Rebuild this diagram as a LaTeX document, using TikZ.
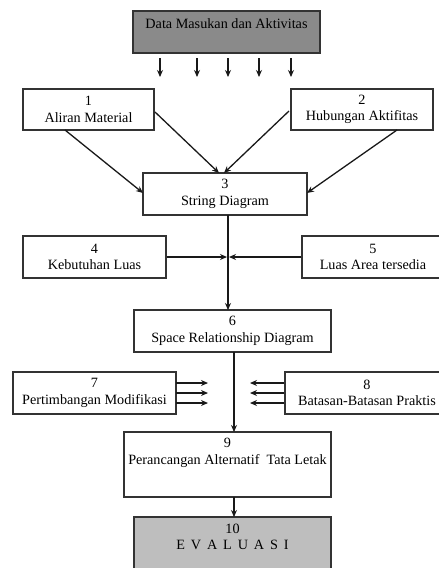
\documentclass[tikz,border=0pt]{standalone}
\usepackage{fontspec}
\setmainfont{Liberation Serif}
\usetikzlibrary{arrows.meta,calc}
\definecolor{topgray}{HTML}{8A8A8A}
\definecolor{botgray}{HTML}{BEBEBE}
\begin{document}
\begin{tikzpicture}[x=1pt,y=-1pt,
  every node/.style={font=\fontsize{14.2}{16.5}\selectfont, align=center, inner sep=0pt},
  box/.style={draw=black!80, line width=1.3pt, fill=white},
  lbl/.style={anchor=north},
  arr/.style={line width=1.3pt, draw=black!90, -{Stealth[length=7pt,width=6pt]}},
  ln/.style={line width=1.3pt, draw=black!90}]
\useasboundingbox (0,0) rectangle (439,568);
% boxes
\node[box, fill=topgray, minimum width=187, minimum height=42] (n0) at (226.5,32) {};
\node[lbl] (t0) at ($(n0.north)+(0,8)$) {Data Masukan dan Aktivitas};
\node[box, minimum width=131, minimum height=41] (n1) at (88.5,109.5) {1\\Aliran Material};
\node[box, minimum width=142, minimum height=41] (n2) at (362,109.5) {2\\Hubungan Aktifitas};
\node[box, minimum width=164, minimum height=42] (n3) at (225,194) {3\\String Diagram};
\node[box, minimum width=143, minimum height=42] (n4) at (94.5,257) {4\\Kebutuhan Luas};
\node[box, minimum width=142, minimum height=42] (n5) at (373,257) {5\\Luas Area tersedia};
\node[box, minimum width=197, minimum height=42] (n6) at (232.5,331) {6\\Space Relationship Diagram};
\node[box, minimum width=163, minimum height=42] (n7) at (94.5,393) {7\\Pertimbangan Modifikasi};
\node[box, minimum width=164, minimum height=42] (n8) at (367,393) {8\\Batasan-Batasan Praktis};
\node[box, minimum width=207, minimum height=65] (n9) at (227.5,464.5) {};
\node[lbl] (t9) at ($(n9.north)+(0,7)$) {9\\Perancangan Alternatif\ \ Tata Letak};
\node[box, fill=botgray, minimum width=197, minimum height=60] (n10) at (232.5,547) {};
\node[lbl] (t10) at ($(n10.north)+(0,7)$) {10\\E\,\ V\,\ A\,\ L\,\ U\,\ A\,\ S\,\ I};
% small input arrows
\foreach \x [count=\i] in {160,197,228,259,291} {
  \coordinate (s\i) at (\x,58);
  \coordinate (e\i) at (\x,77);
  \draw[arr] (s\i) -- (e\i);
}
% into box 3
\coordinate (a1) at (65,130);   \coordinate (b1) at (143,193);
\coordinate (a2) at (155,112);  \coordinate (b2) at (219,173);
\coordinate (a3) at (289,111);  \coordinate (b3) at (224,173);
\coordinate (a4) at (397,130);  \coordinate (b4) at (307,193);
\draw[arr] (a1) -- (b1);
\draw[arr] (a2) -- (b2);
\draw[arr] (a3) -- (b3);
\draw[arr] (a4) -- (b4);
% 3 -> 6 with 4 and 5 joining
\coordinate (c3) at (228,215);
\coordinate (c6) at (228,310);
\draw[arr] (c3) -- (c6);
\coordinate (j4) at (227,257);
\coordinate (j5) at (229,257);
\draw[arr] (n4.east) -- (j4);
\draw[arr] (n5.west) -- (j5);
% 6 -> 9
\coordinate (c6b) at (234,352);
\coordinate (c9) at (234,432);
\draw[arr] (c6b) -- (c9);
% 7 and 8 arrows
\foreach \y [count=\i] in {383,393,403} {
  \coordinate (p\i) at (176,\y); \coordinate (q\i) at (208,\y);
  \draw[arr] (p\i) -- (q\i);
  \coordinate (r\i) at (284,\y); \coordinate (u\i) at (250,\y);
  \draw[arr] (r\i) -- (u\i);
}
% 9 -> 10
\coordinate (c9b) at (234,497);
\coordinate (c10) at (234,517);
\draw[arr] (c9b) -- (c10);
\end{tikzpicture}
\end{document}
